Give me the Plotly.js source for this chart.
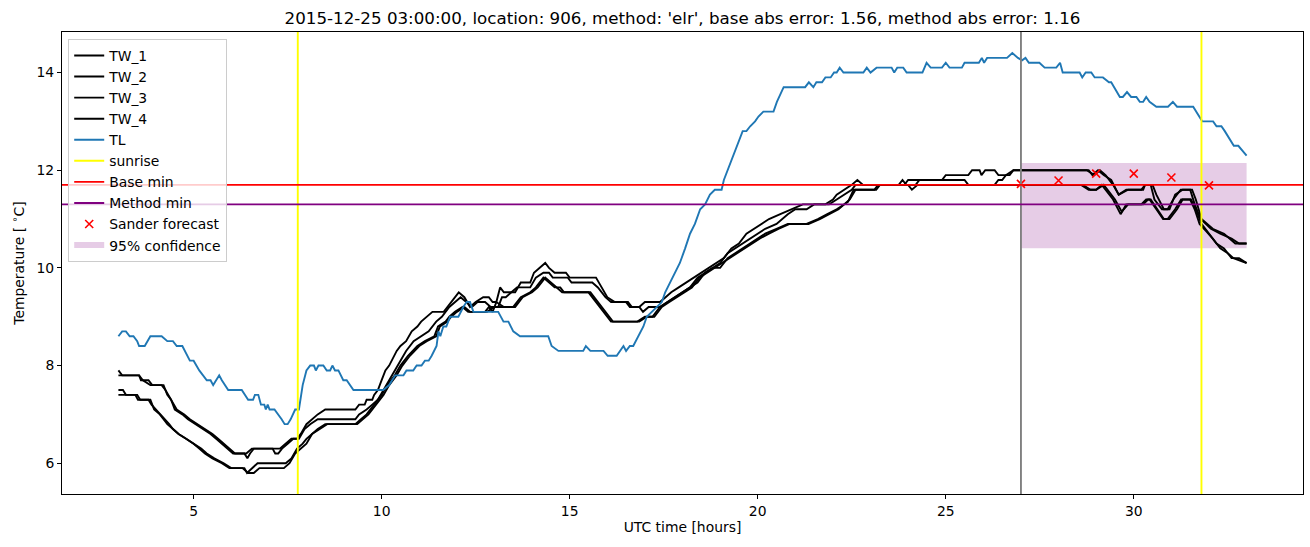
<!DOCTYPE html>
<html>
<head>
<meta charset="utf-8">
<script src="https://cdn.plot.ly/plotly-3.0.1.min.js"></script>
<style>html,body{margin:0;padding:0;background:#fff;}#chart{width:1310px;height:547px;}</style>
</head>
<body>
<div id="chart"></div>
<script>
// ---------- data ----------
const tw1X = [3.0,3.1,3.55,3.65,3.85,4.15,4.25,4.4,4.5,4.7,4.85,5.05,5.25,5.45,5.6,5.75,5.9,6.05,6.4,6.55,7.3,7.45,7.6,7.75,7.85,8.0,8.15,8.3,8.5,9.3,9.4,9.55,9.6,9.75,9.8,9.9,10.0,10.1,10.2,10.3,10.4,10.5,10.65,10.8,10.95,11.05,11.2,11.35,11.65,11.75,11.85,11.95,12.05,12.2,12.35,12.5,12.7,12.85,12.95,13.05,13.15,13.25,13.55,13.7,13.95,14.05,14.2,14.35,14.45,14.6,14.9,15.0,15.7,15.85,16.0,16.2,16.5,16.6,16.85,17.0,17.4,17.55,17.7,17.9,18.1,18.3,18.5,18.7,18.9,19.1,19.3,19.5,19.7,19.9,20.1,20.3,20.6,20.9,21.2,21.8,22.0,22.1,22.3,22.5,22.65,22.8,23.9,24.0,24.9,25.0,25.6,25.7,25.9,25.95,26.05,26.3,26.4,26.7,26.8,28.8,28.9,29.05,29.2,29.4,29.6,29.85,30.25,30.3,30.5,30.6,30.8,30.95,31.1,31.3,31.55,31.65,31.8,32.1,32.4,32.7,33.0];
const tw1Y = [7.9,7.8,7.8,7.7,7.6,7.6,7.5,7.3,7.1,7.0,6.9,6.8,6.7,6.6,6.5,6.4,6.3,6.2,6.2,6.3,6.3,6.4,6.5,6.5,6.6,6.8,6.9,7.0,7.1,7.1,7.2,7.2,7.3,7.3,7.4,7.5,7.7,7.9,8.0,8.15,8.3,8.4,8.5,8.7,8.8,8.9,9.0,9.1,9.1,9.2,9.3,9.4,9.5,9.4,9.2,9.3,9.4,9.4,9.3,9.3,9.6,9.5,9.5,9.7,9.7,9.9,10.0,10.1,10.0,9.9,9.9,9.8,9.8,9.6,9.4,9.3,9.3,9.2,9.2,9.3,9.3,9.4,9.5,9.6,9.7,9.8,9.9,10.0,10.1,10.2,10.4,10.5,10.7,10.8,10.9,11.0,11.1,11.2,11.3,11.3,11.4,11.5,11.6,11.7,11.8,11.7,11.7,11.8,11.8,11.9,11.9,12.0,12.0,11.9,12.0,12.0,11.9,11.9,12.0,12.0,11.9,12.0,11.9,11.8,11.5,11.6,11.6,11.7,11.7,11.5,11.2,11.2,11.5,11.6,11.6,11.4,11.0,10.8,10.7,10.5,10.5];

const tw2X = [3.0,3.55,3.6,3.8,3.9,4.2,4.3,4.4,4.55,4.75,4.9,5.1,5.3,5.5,5.65,5.8,5.95,6.1,6.35,6.43,6.5,6.6,7.1,7.17,7.25,7.35,7.5,7.65,7.8,7.95,8.1,8.3,8.5,9.3,9.4,9.6,9.75,9.9,10.05,10.2,10.35,10.5,10.65,10.85,11.05,11.25,11.45,11.6,11.8,11.95,12.1,12.25,12.4,12.55,12.75,12.9,13.1,13.2,13.3,13.45,13.6,13.95,14.1,14.3,14.45,14.55,14.95,15.05,15.6,15.75,15.95,16.1,16.55,16.65,16.85,16.95,17.1,17.4,17.6,17.8,18.0,18.2,18.4,18.6,18.8,19.0,19.2,19.4,19.6,19.8,20.0,20.2,20.5,20.8,21.0,21.3,21.5,21.9,22.1,22.3,22.5,22.6,23.75,23.85,23.95,24.2,24.3,25.5,25.6,26.3,26.4,26.5,26.6,26.8,28.75,28.95,29.1,29.25,29.45,29.6,29.8,30.2,30.3,30.45,30.55,30.75,30.9,31.05,31.25,31.5,31.62,31.78,32.05,32.3,32.6,32.8,33.0];
const tw2Y = [7.8,7.8,7.7,7.7,7.6,7.6,7.4,7.3,7.1,7.0,6.9,6.8,6.7,6.6,6.5,6.4,6.3,6.2,6.2,6.1,6.2,6.3,6.3,6.2,6.2,6.3,6.4,6.5,6.5,6.7,6.8,6.9,6.9,6.9,7.0,7.1,7.2,7.3,7.5,7.7,7.9,8.1,8.3,8.5,8.6,8.7,8.9,9.0,9.2,9.3,9.4,9.3,9.2,9.3,9.3,9.2,9.2,9.4,9.4,9.5,9.6,9.6,9.8,9.9,9.9,9.8,9.8,9.7,9.7,9.6,9.4,9.3,9.3,9.2,9.2,9.1,9.2,9.2,9.3,9.4,9.5,9.6,9.8,9.9,10.0,10.1,10.3,10.4,10.5,10.6,10.7,10.8,10.9,11.1,11.2,11.2,11.3,11.3,11.4,11.5,11.6,11.7,11.7,11.8,11.7,11.7,11.8,11.8,11.7,11.7,11.8,11.8,11.9,12.0,12.0,11.9,12.0,11.9,11.7,11.5,11.6,11.6,11.7,11.7,11.4,11.2,11.2,11.4,11.6,11.6,11.3,11.0,10.8,10.7,10.6,10.5,10.5];

const tw3X = [3.0,3.12,3.2,3.45,3.52,3.8,3.88,4.0,4.1,4.22,4.35,4.45,4.6,4.8,5.0,5.15,5.3,5.5,5.75,5.95,6.35,6.42,6.55,6.7,7.45,7.6,7.75,7.9,8.0,8.15,8.3,8.5,9.3,9.45,9.6,9.8,10.0,10.15,10.35,10.5,10.7,10.95,11.15,11.4,11.5,11.7,11.8,11.95,12.15,12.3,12.75,12.85,12.95,13.05,13.25,13.5,13.7,13.95,14.1,14.3,14.45,14.6,14.75,14.85,15.5,15.6,15.8,16.0,16.1,16.8,17.0,17.2,17.4,17.6,17.8,18.0,18.2,18.4,18.6,18.8,19.0,19.2,19.4,19.6,19.8,20.0,20.2,20.5,20.8,21.3,21.6,21.85,22.1,22.4,22.55,23.1,23.2,28.6,28.8,29.0,29.15,29.45,29.65,29.8,30.2,30.33,30.42,30.6,30.78,30.9,31.1,31.26,31.5,31.62,31.75,31.93,32.1,32.3,32.5,32.65,32.95,33.0];
const tw3Y = [7.5,7.5,7.4,7.4,7.3,7.3,7.2,7.1,7.0,6.9,6.8,6.7,6.6,6.5,6.4,6.3,6.2,6.1,6.0,5.9,5.9,5.8,5.9,6.0,6.0,6.1,6.3,6.4,6.5,6.6,6.7,6.8,6.8,6.9,7.0,7.2,7.4,7.6,7.8,8.0,8.2,8.4,8.5,8.6,8.8,8.9,9.0,9.1,9.2,9.1,9.1,9.2,9.1,9.3,9.2,9.2,9.4,9.5,9.6,9.8,9.7,9.6,9.6,9.5,9.5,9.4,9.2,9.0,8.9,8.9,9.0,9.0,9.2,9.3,9.4,9.5,9.6,9.7,9.9,10.0,10.0,10.2,10.3,10.4,10.5,10.6,10.7,10.8,10.9,10.9,11.0,11.1,11.2,11.35,11.6,11.6,11.7,11.7,11.6,11.6,11.7,11.4,11.1,11.3,11.3,11.4,11.4,11.2,11.0,11.0,11.2,11.4,11.4,11.2,10.9,10.75,10.6,10.4,10.3,10.2,10.1,10.1];

const tw4X = [3.0,3.5,3.58,3.85,3.95,4.1,4.2,4.3,4.45,4.6,4.8,5.0,5.2,5.35,5.55,5.8,6.0,6.3,6.45,6.6,6.75,7.4,7.55,7.7,7.85,8.0,8.15,8.35,8.55,9.35,9.5,9.65,9.85,10.05,10.2,10.4,10.55,10.75,11.0,11.2,11.45,11.55,11.75,11.85,12.0,12.2,12.35,12.8,13.0,13.1,13.3,13.55,13.75,14.0,14.15,14.35,14.5,14.65,14.8,15.55,15.65,15.85,16.05,16.15,16.85,17.05,17.25,17.45,17.65,17.85,18.05,18.25,18.45,18.65,18.85,19.05,19.25,19.45,19.65,19.85,20.05,20.3,20.55,20.85,21.35,21.65,21.9,22.15,22.45,22.6,23.15,23.25,24.0,24.1,24.25,28.65,28.85,29.0,29.2,29.5,29.68,29.85,30.25,30.38,30.45,30.63,30.8,30.95,31.15,31.3,31.52,31.65,31.8,32.0,32.2,32.4,32.6,32.8,33.0];
const tw4Y = [7.4,7.4,7.3,7.3,7.1,7.0,6.9,6.8,6.7,6.6,6.5,6.4,6.3,6.2,6.1,6.0,5.9,5.9,5.8,5.8,5.9,5.9,6.0,6.2,6.3,6.4,6.6,6.7,6.8,6.8,6.9,7.0,7.2,7.4,7.6,7.8,8.0,8.2,8.4,8.5,8.6,8.8,8.9,9.0,9.1,9.2,9.1,9.1,9.2,9.2,9.2,9.2,9.4,9.5,9.6,9.8,9.7,9.6,9.5,9.5,9.4,9.2,9.0,8.9,8.9,9.0,9.0,9.2,9.3,9.4,9.5,9.6,9.8,9.9,10.0,10.1,10.2,10.3,10.4,10.5,10.6,10.7,10.8,10.9,10.9,11.0,11.1,11.2,11.4,11.6,11.6,11.7,11.7,11.6,11.7,11.7,11.6,11.6,11.7,11.4,11.15,11.3,11.3,11.4,11.4,11.2,11.0,11.0,11.2,11.4,11.4,11.2,10.9,10.7,10.5,10.4,10.2,10.2,10.1];

const tlX = [3.0,3.1,3.2,3.3,3.4,3.5,3.55,3.7,3.85,4.15,4.3,4.45,4.55,4.7,4.9,5.0,5.15,5.35,5.45,5.52,5.68,5.75,5.92,6.28,6.45,6.58,6.63,6.72,6.79,6.88,6.92,6.97,7.02,7.15,7.34,7.42,7.5,7.58,7.7,7.8,7.9,8.0,8.1,8.2,8.25,8.32,8.45,8.54,8.63,8.69,8.76,8.85,8.98,9.07,9.25,10.04,10.2,10.36,10.58,10.66,10.84,10.93,11.06,11.15,11.25,11.33,11.46,11.51,11.56,11.64,11.72,11.82,12.04,12.17,12.26,12.35,12.44,13.1,13.24,13.37,13.5,13.68,14.43,14.52,14.7,15.36,15.43,15.55,15.9,16.01,16.25,16.43,16.5,16.6,16.69,16.83,16.96,17.05,17.18,17.3,17.45,17.54,17.67,17.8,17.93,18.07,18.2,18.33,18.47,18.6,18.73,18.86,19.04,19.1,19.2,19.3,19.4,19.5,19.6,19.7,19.8,19.93,20.02,20.15,20.42,20.51,20.69,21.26,21.36,21.48,21.56,21.71,21.8,21.94,22.03,22.1,22.18,22.28,22.81,22.9,23.0,23.16,23.56,23.63,23.71,23.87,23.96,24.38,24.49,24.6,24.9,25.0,25.1,25.43,25.5,25.88,25.96,26.02,26.1,26.63,26.77,26.92,27.03,27.12,27.21,27.49,27.63,27.94,28.04,28.11,28.56,28.63,28.72,28.87,28.96,29.18,29.34,29.4,29.63,29.71,29.82,29.93,30.07,30.16,30.25,30.33,30.42,30.6,30.91,31.04,31.15,31.58,31.82,32.11,32.2,32.33,32.42,32.66,32.78,33.0];
const tlY = [8.6,8.7,8.7,8.6,8.6,8.5,8.4,8.4,8.6,8.6,8.5,8.5,8.4,8.4,8.1,8.1,7.9,7.7,7.7,7.6,7.8,7.7,7.5,7.5,7.3,7.3,7.4,7.4,7.2,7.2,7.1,7.2,7.1,7.1,6.9,6.8,6.8,6.9,7.1,7.1,7.6,7.9,8.0,8.0,7.9,8.0,8.0,7.9,7.9,8.0,7.9,7.9,7.7,7.7,7.5,7.5,7.6,7.8,7.8,7.9,7.9,8.0,8.0,8.1,8.1,8.2,8.4,8.7,8.6,8.8,8.8,9.0,9.0,9.2,9.3,9.3,9.1,9.1,8.9,8.9,8.7,8.6,8.6,8.4,8.3,8.3,8.4,8.3,8.3,8.2,8.2,8.4,8.3,8.4,8.4,8.6,8.8,9.0,9.1,9.2,9.3,9.5,9.7,9.9,10.1,10.4,10.7,10.9,11.2,11.3,11.5,11.6,11.6,11.8,12.0,12.2,12.4,12.6,12.8,12.8,12.9,13.0,13.1,13.2,13.2,13.4,13.7,13.7,13.8,13.7,13.8,13.8,13.9,13.9,14.0,14.0,14.1,14.0,14.0,14.1,14.0,14.1,14.1,14.0,14.1,14.1,14.0,14.0,14.2,14.1,14.1,14.2,14.1,14.1,14.2,14.2,14.3,14.2,14.3,14.3,14.4,14.3,14.25,14.3,14.2,14.2,14.1,14.1,14.2,14.0,14.0,13.9,14.0,14.0,13.9,13.9,13.8,13.8,13.5,13.5,13.6,13.5,13.5,13.4,13.4,13.5,13.4,13.3,13.3,13.4,13.3,13.3,13.0,13.0,12.9,12.9,12.8,12.5,12.5,12.3];

const sunriseTimes = [7.77, 31.8];
const forecastStart = 27.0;
const baseMin = 11.7;
const methodMin = 11.3;
const sanderX = [27, 28, 29, 30, 31, 32];
const sanderY = [11.72, 11.79, 11.93, 11.93, 11.85, 11.69];
const confX = [27, 33];
const confLow = 10.4;
const confHigh = 12.15;

const titleText = "2015-12-25 03:00:00, location: 906, method: 'elr', base abs error: 1.56, method abs error: 1.16";

// ---------- ranges (matplotlib style 5% margins) ----------
const allX = tw1X.concat(tw2X, tw3X, tw4X, tlX);
const allY = tw1Y.concat(tw2Y, tw3Y, tw4Y, tlY);
const xmin = Math.min(...allX), xmax = Math.max(...allX);
const ymin = Math.min(...allY), ymax = Math.max(...allY);
const xpad = (xmax - xmin) * 0.05, ypad = (ymax - ymin) * 0.05;

const FONT = 'DejaVu Sans, Liberation Sans, sans-serif';
const FS = 13.9;
const twLine = {color: 'black', width: 1.9};

const traces = [
  {x: [confX[0], confX[1], confX[1], confX[0], confX[0]],
   y: [confLow, confLow, confHigh, confHigh, confLow],
   mode: 'none', fill: 'toself', fillcolor: 'rgba(128,0,128,0.2)',
   name: '95% confidence', legendrank: 10, hoverinfo: 'skip'},
  {x: tw1X, y: tw1Y, mode: 'lines', line: twLine, name: 'TW_1', legendrank: 1},
  {x: tw2X, y: tw2Y, mode: 'lines', line: twLine, name: 'TW_2', legendrank: 2},
  {x: tw3X, y: tw3Y, mode: 'lines', line: twLine, name: 'TW_3', legendrank: 3},
  {x: tw4X, y: tw4Y, mode: 'lines', line: twLine, name: 'TW_4', legendrank: 4},
  {x: tlX, y: tlY, mode: 'lines', line: {color: '#1f77b4', width: 1.9}, name: 'TL', legendrank: 5},
  {x: [null], y: [null], mode: 'lines', line: {color: 'yellow', width: 1.9}, name: 'sunrise', legendrank: 6},
  {x: [null], y: [null], mode: 'lines', line: {color: 'red', width: 1.9}, name: 'Base min', legendrank: 7},
  {x: [null], y: [null], mode: 'lines', line: {color: 'purple', width: 1.9}, name: 'Method min', legendrank: 8},
  {x: sanderX, y: sanderY, mode: 'markers', name: 'Sander forecast', legendrank: 9,
   marker: {symbol: 'x-thin', size: 8, color: 'red', line: {color: 'red', width: 1.6}}}
];

const shapes = [];
sunriseTimes.forEach(t => shapes.push({type: 'line', xref: 'x', yref: 'paper', x0: t, x1: t, y0: 0, y1: 1, line: {color: 'yellow', width: 1.9}}));
shapes.push({type: 'line', xref: 'x', yref: 'paper', x0: forecastStart, x1: forecastStart, y0: 0, y1: 1, line: {color: 'gray', width: 1.9}});
shapes.push({type: 'line', xref: 'paper', yref: 'y', x0: 0, x1: 1, y0: baseMin, y1: baseMin, line: {color: 'red', width: 1.9}});
shapes.push({type: 'line', xref: 'paper', yref: 'y', x0: 0, x1: 1, y0: methodMin, y1: methodMin, line: {color: 'purple', width: 1.9}});

const layout = {
  width: 1310, height: 547,
  margin: {l: 62, r: 7, t: 32, b: 53},
  paper_bgcolor: 'white', plot_bgcolor: 'white',
  font: {family: FONT, size: FS, color: 'black'},
  title: {text: titleText, font: {family: FONT, size: 16.7, color: 'black'},
          x: 0.5, xref: 'paper', xanchor: 'center', y: 1 - 18 / 547, yref: 'container', yanchor: 'middle'},
  xaxis: {range: [xmin - xpad, xmax + xpad], dtick: 5, tick0: 0, ticks: 'outside', ticklen: 4, tickcolor: 'black',
          showline: true, linecolor: 'black', linewidth: 1, mirror: true, showgrid: false, zeroline: false,
          tickfont: {size: FS}, title: {text: 'UTC time [hours]', font: {size: FS}, standoff: 4}},
  yaxis: {range: [ymin - ypad, ymax + ypad], dtick: 2, tick0: 0, ticks: 'outside', ticklen: 4, tickcolor: 'black',
          showline: true, linecolor: 'black', linewidth: 1, mirror: true, showgrid: false, zeroline: false,
          tickfont: {size: FS}, title: {text: 'Temperature [ <sup>\u2218</sup>C]', font: {size: FS}, standoff: 8}},
  legend: {x: 0.005, y: 0.985, xanchor: 'left', yanchor: 'top', bgcolor: 'rgba(255,255,255,0.8)',
           bordercolor: '#cccccc', borderwidth: 1, font: {size: FS}, tracegroupgap: 0, itemwidth: 30},
  shapes: shapes,
  showlegend: true
};

Plotly.newPlot('chart', traces, layout, {staticPlot: true});
</script>
</body>
</html>
